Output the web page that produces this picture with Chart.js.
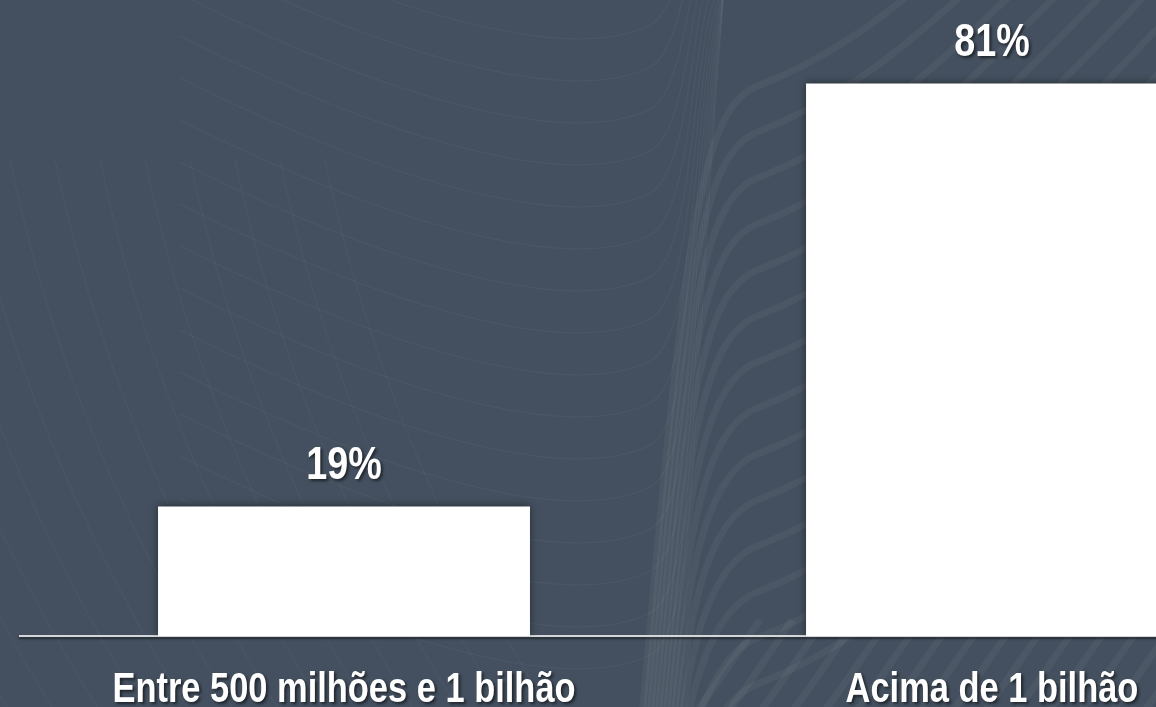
<!DOCTYPE html>
<html>
<head>
<meta charset="utf-8">
<script src="https://cdn.jsdelivr.net/npm/chart.js@4.4.1/dist/chart.umd.min.js"></script>
<style>
  html, body { margin: 0; padding: 0; background: #44505f; overflow: hidden; width: 1156px; height: 707px; }
  #wrap { position: absolute; left: 0; top: 0; width: 1316px; height: 707px; }
</style>
</head>
<body>
<div id="wrap"><canvas id="chart" width="1316" height="707"></canvas></div>
<script>
// Revenue bands and share of companies in each band (%)
const categories = ['Entre 500 milhões e 1 bilhão', 'Acima de 1 bilhão'];
const shares = [19, 81];
const valueLabels = shares.map(v => v + '%');

const FONT = "'Liberation Sans', Arial, sans-serif";
const NARROW = 0.82;          // horizontal squeeze for a narrow bold face
const BG = '#44505f';

// Draws text squeezed horizontally, centred on x, sitting on baseline y
function narrowText(ctx, text, x, y, size) {
  ctx.save();
  ctx.font = 'bold ' + size + 'px ' + FONT;
  ctx.fillStyle = '#ffffff';
  ctx.textAlign = 'center';
  ctx.textBaseline = 'alphabetic';
  ctx.shadowColor = 'rgba(0,0,0,0.55)';
  ctx.shadowOffsetX = 2;
  ctx.shadowOffsetY = 2;
  ctx.shadowBlur = 3;
  ctx.translate(x, y);
  ctx.scale(NARROW, 1);
  ctx.fillText(text, 0, 0);
  ctx.restore();
}

// Slate backdrop with faint flowing contour lines
const backdrop = {
  id: 'backdrop',
  beforeDraw(chart) {
    const { ctx, width, height } = chart;
    ctx.save();
    ctx.fillStyle = BG;
    ctx.fillRect(0, 0, width, height);

    ctx.strokeStyle = 'rgba(255,255,255,0.035)';
    ctx.lineWidth = 1.2;
    for (let i = 0; i < 14; i++) {
      const x = -260 + i * 45;
      ctx.beginPath();
      ctx.moveTo(x, 160);
      ctx.quadraticCurveTo(x + 60, 450, x + 230, 720);
      ctx.stroke();
    }
    ctx.strokeStyle = 'rgba(255,255,255,0.04)';
    for (let i = 0; i < 16; i++) {
      const y = 20 + i * 42;
      ctx.beginPath();
      ctx.moveTo(180, y - 110);
      ctx.bezierCurveTo(420, y + 10, 580, y + 40, 650, y + 5);
      ctx.bezierCurveTo(700, y - 20, 690, y - 260, 725, -20);
      ctx.stroke();
    }

    ctx.strokeStyle = 'rgba(255,255,255,0.045)';
    ctx.lineWidth = 7;
    for (let i = 0; i < 14; i++) {
      const y = 90 + i * 46;
      ctx.beginPath();
      ctx.moveTo(640 + i * 4, 740);
      ctx.bezierCurveTo(685, y + 140, 700, y + 15, 760, y - 5);
      ctx.bezierCurveTo(900, y - 60, 1000, y - 170, 1330, y - 520);
      ctx.stroke();
    }
    for (let i = 0; i < 22; i++) {
      const x = 690 + i * 32;
      ctx.beginPath();
      ctx.moveTo(x, 720);
      ctx.quadraticCurveTo(x + 30, 680, x + 70, 620);
      ctx.stroke();
    }
    ctx.restore();

    // soft shadow under the axis line
    ctx.shadowColor = 'rgba(0,0,0,0.5)';
    ctx.shadowOffsetX = 0;
    ctx.shadowOffsetY = 2;
    ctx.shadowBlur = 2;
  },
  beforeDatasetsDraw(chart) {
    const ctx = chart.ctx;
    ctx.save();
    ctx.shadowColor = 'rgba(0,0,0,0.45)';
    ctx.shadowOffsetX = 0;
    ctx.shadowOffsetY = 0;
    ctx.shadowBlur = 8;
  },
  afterDatasetsDraw(chart) {
    const ctx = chart.ctx;
    ctx.restore();
    ctx.shadowColor = 'rgba(0,0,0,0)';
    ctx.shadowBlur = 0;
    ctx.shadowOffsetX = 0;
    ctx.shadowOffsetY = 0;

    // value labels above each bar
    const meta = chart.getDatasetMeta(0);
    meta.data.forEach((bar, i) => {
      narrowText(ctx, valueLabels[i], bar.x, bar.y - 27, 46);
    });

    // category labels under the axis
    const xs = chart.scales.x;
    chart.data.labels.forEach((lab, i) => {
      narrowText(ctx, lab, xs.getPixelForValue(i), xs.top + 66, 42);
    });
  }
};

new Chart(document.getElementById('chart'), {
  type: 'bar',
  data: {
    labels: categories,
    datasets: [{
      data: shares,
      backgroundColor: '#ffffff',
      borderWidth: 0,
      categoryPercentage: 1,
      barPercentage: 0.574
    }]
  },
  options: {
    responsive: false,
    animation: false,
    devicePixelRatio: 1,
    layout: { padding: { left: 20, right: 0, top: 22, bottom: 0 } },
    plugins: { legend: { display: false }, tooltip: { enabled: false } },
    scales: {
      x: {
        grid: { display: false, drawTicks: false },
        border: { display: true, color: '#d4d6d9', width: 2 },
        ticks: { display: false },
        afterFit(scale) { scale.height = 71; }
      },
      y: {
        display: false,
        min: 0,
        max: 90
      }
    }
  },
  plugins: [backdrop]
});
</script>
</body>
</html>
